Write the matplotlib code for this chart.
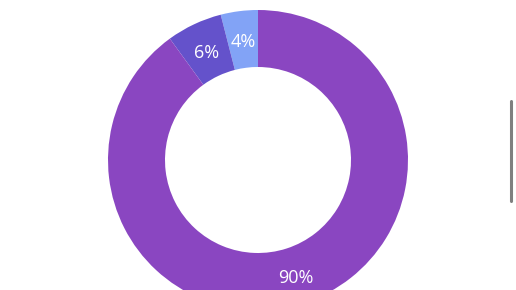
import matplotlib
matplotlib.use('Agg')
import matplotlib.pyplot as plt

## Slice values (counterclockwise from 12 o'clock) and their colours
labels = ['4%', '6%', '90%']
values = [4, 6, 90]
colors = ['#82A3F6', '#6452CB', '#8A46C1']

W, H = 516, 290  ## figure size in px
fig = plt.figure(figsize=(W / 100, H / 100), dpi=100)
ax = fig.add_axes([0, 0, 1, 1])

## Donut, pixel coordinates with y measured from the bottom
cx, cy = 258, H - 160
r_out, r_in = 150, 93
wedges, texts = ax.pie(values, colors=colors, startangle=90, counterclock=True,
                       radius=r_out, center=(cx, cy),
                       wedgeprops=dict(width=r_out - r_in, linewidth=0),
                       labels=labels, labeldistance=(r_out + r_in) / 2 / r_out,
                       textprops=dict(color='white', fontsize=13, weight='medium',
                                      family=['Open Sans', 'DejaVu Sans'],
                                      ha='center', va='center'))
## nudge labels down a touch, like the reference
for t in texts:
    x, y = t.get_position()
    t.set_position((x, y - 2.5))

## Scrollbar on the right
ax.plot([510.5, 510.5], [H - 101, H - 201], color='#7f7f7f', lw=2.2, solid_capstyle='round')

ax.set_xlim(0, W)
ax.set_ylim(0, H)
ax.set_aspect('auto')
ax.axis('off')
fig.savefig('out.png', dpi=100)
